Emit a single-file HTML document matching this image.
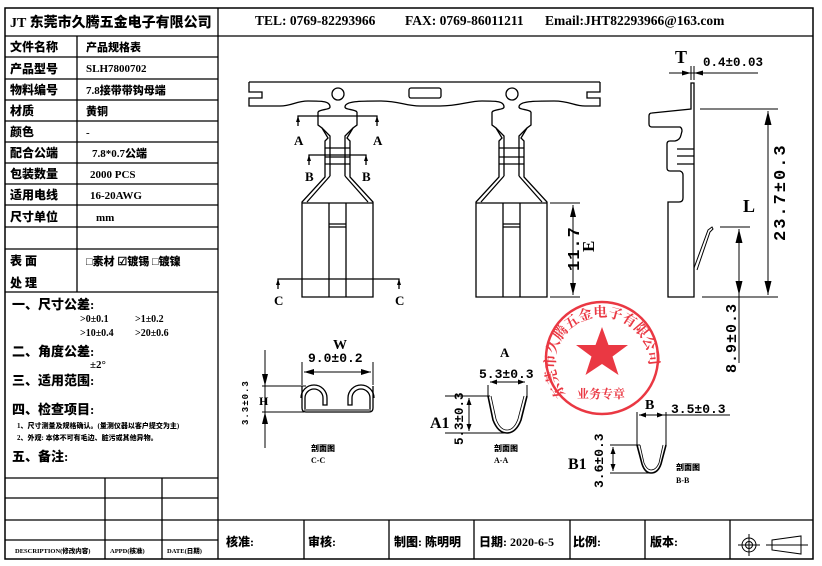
<!DOCTYPE html>
<html><head><meta charset="utf-8"><style>
html,body{margin:0;padding:0;background:#fff;}
svg{display:block;}
text{font-family:"Liberation Serif","Noto Serif CJK SC",serif;font-weight:bold;fill:#000;}
.c{font-family:"Liberation Serif","Noto Sans CJK SC",sans-serif;font-weight:900;}
.m{font-family:"Liberation Mono",monospace;font-weight:bold;}
</style></head><body>
<svg width="822" height="566" viewBox="0 0 822 566" xmlns="http://www.w3.org/2000/svg">
<g fill="none" stroke="#000" stroke-width="1.3">
<rect x="5" y="8" width="808" height="551" stroke-width="1.5"/>
<line x1="218" y1="8" x2="218" y2="559"/>
<line x1="218" y1="36" x2="813" y2="36"/>
<line x1="218" y1="520" x2="813" y2="520"/>
<line x1="5" y1="36" x2="218" y2="36"/>
<line x1="5" y1="57" x2="218" y2="57"/>
<line x1="5" y1="79" x2="218" y2="79"/>
<line x1="5" y1="100" x2="218" y2="100"/>
<line x1="5" y1="121" x2="218" y2="121"/>
<line x1="5" y1="142" x2="218" y2="142"/>
<line x1="5" y1="163" x2="218" y2="163"/>
<line x1="5" y1="184" x2="218" y2="184"/>
<line x1="5" y1="205" x2="218" y2="205"/>
<line x1="5" y1="227" x2="218" y2="227"/>
<line x1="5" y1="249" x2="218" y2="249"/>
<line x1="5" y1="292" x2="218" y2="292"/>
<line x1="77" y1="36" x2="77" y2="292"/>
<line x1="5" y1="478" x2="218" y2="478"/>
<line x1="5" y1="498" x2="218" y2="498"/>
<line x1="5" y1="520" x2="218" y2="520"/>
<line x1="5" y1="540" x2="218" y2="540"/>
<line x1="105" y1="478" x2="105" y2="559"/>
<line x1="162" y1="478" x2="162" y2="559"/>
<line x1="304" y1="520" x2="304" y2="559"/>
<line x1="389" y1="520" x2="389" y2="559"/>
<line x1="474" y1="520" x2="474" y2="559"/>
<line x1="570" y1="520" x2="570" y2="559"/>
<line x1="645" y1="520" x2="645" y2="559"/>
<line x1="730" y1="520" x2="730" y2="559"/>
<g stroke-width="1">
<circle cx="749" cy="545" r="7"/><circle cx="749" cy="545" r="3.5"/>
<line x1="738" y1="545" x2="760" y2="545"/><line x1="749" y1="534" x2="749" y2="556"/>
<path d="M772,540 L801,536 L801,554 L772,550 Z"/>
<line x1="766" y1="545" x2="808" y2="545"/>
</g>

<path d="M249,82 L600,82 M249,82 L249,92 L262,92 L262,98 L249,98 L249,106 L280,106 C292,106 296,101 308,101 C322,101 330,101 330,107 C330,110 320,109 318,112"/>
<path d="M357,112 C355,109 345,110 345,107 C345,101 360,101 380,101 C400,101 405,106 420,106 L440,106 C460,106 468,101 482,101 C496,101 504,101 504,107 C504,110 494,109 492,112"/>
<path d="M531,112 C529,109 519,110 519,107 C519,101 534,101 554,101 C570,101 574,106 585,106 L600,106 L600,98 L587,98 L587,92 L600,92 L600,82"/>
<circle cx="338" cy="94" r="6"/>
<circle cx="512" cy="94" r="6"/>
<rect x="409" y="88" width="32" height="10" rx="2"/>

<g id="t1">
<path d="M318,112 L318,125 L322,128 L328,138 L325,141 L325,177 L302,202 L302,297 L373,297 L373,202 L350,177 L350,141 L347,138 L353,128 L357,125 L357,112"/>
<path d="M322,128 L330,136 L330,176 M353,128 L345,136 L345,176 M330,176 L307,202 M345,176 L368,202"/>
<line x1="302" y1="203" x2="373" y2="203"/>
<line x1="329" y1="203" x2="329" y2="297"/>
<line x1="346" y1="203" x2="346" y2="297"/>
<line x1="329" y1="224" x2="346" y2="224"/><line x1="329" y1="227" x2="346" y2="227"/>
<line x1="325" y1="148" x2="350" y2="148"/>
<line x1="325" y1="157" x2="350" y2="157"/>
<line x1="325" y1="164" x2="350" y2="164"/>
</g>
<use href="#t1" transform="translate(174,0)"/>

<path d="M298,126 L298,116 L377,116 L377,126"/>
<path d="M309,165 L309,155 L366,155 L366,165"/>
<path d="M278,289 L278,279 L399,279 L399,289"/>

<line x1="550" y1="203" x2="580" y2="203" stroke-width="1"/>
<line x1="550" y1="297" x2="580" y2="297" stroke-width="1"/>
<line x1="573" y1="205" x2="573" y2="295" stroke-width="1"/>

<path d="M691,83 L691,109 L652,113 Q649,113 649,116 L649,124 Q649,127 652,127 L680,127 Q682,128 682,131 L681,135 Q680,140 675,141 L670,141 Q667,141 667,144 L667,168 Q667,171 670,171 L680,171 Q683,172 683,175 L683,198 Q683,202 679,202 L668,202 L668,297 L694,297 L694,83 Z"/>
<line x1="677" y1="149" x2="694" y2="149"/>
<line x1="677" y1="156" x2="694" y2="156"/>
<line x1="677" y1="164" x2="694" y2="164"/>
<path d="M694,268 L708,230 L712,227 L713,229 L710,232 L697,270" stroke-width="1"/>
<g stroke-width="1">
<line x1="669" y1="73" x2="758" y2="73"/>
<line x1="691" y1="66" x2="691" y2="80"/><line x1="694" y1="66" x2="694" y2="80"/>
<line x1="700" y1="109" x2="778" y2="109"/>
<line x1="702" y1="297" x2="778" y2="297"/>
<line x1="768" y1="111" x2="768" y2="295"/>
<line x1="720" y1="227" x2="750" y2="227"/>
<line x1="739" y1="229" x2="739" y2="363"/>
</g>

<g stroke-width="1">
<line x1="302" y1="362" x2="302" y2="385"/>
<line x1="373" y1="362" x2="373" y2="385"/>
<line x1="304" y1="372" x2="371" y2="372"/>
<line x1="262" y1="386" x2="306" y2="386"/>
<line x1="262" y1="412" x2="304" y2="412"/>
<line x1="265" y1="350" x2="265" y2="448"/>
</g>
<path d="M302,386 L302,408 Q302,412 306,412 L369,412 Q373,412 373,408 L373,386"/>
<path d="M304,410 L371,410" stroke-width="1"/>
<path d="M305,409 L305,398 A9,9 0 0 1 323,398 L323,405 L327,405 L327,398 A13,13 0 0 0 301,398"/>
<path d="M370,409 L370,398 A9,9 0 0 0 352,398 L352,405 L348,405 L348,398 A13,13 0 0 1 374,398"/>

<g stroke-width="1">
<line x1="488" y1="385" x2="488" y2="396"/>
<line x1="527" y1="385" x2="527" y2="396"/>
<line x1="490" y1="382" x2="525" y2="382"/>
<line x1="445" y1="396" x2="490" y2="396"/>
<line x1="445" y1="433" x2="505" y2="433"/>
<line x1="469" y1="398" x2="469" y2="431"/>
</g>
<path d="M488,396 L493,420 Q498,433 507,433 Q516,433 521,420 L527,396" stroke-width="1.6"/>
<path d="M491,396 L496,419 Q500,430 507,430 Q514,430 518,419 L524,396" stroke-width="0.8"/>

<g stroke-width="1">
<line x1="637" y1="412" x2="637" y2="445"/>
<line x1="666" y1="412" x2="666" y2="445"/>
<line x1="639" y1="415" x2="730" y2="415"/>
<line x1="610" y1="445" x2="640" y2="445"/>
<line x1="610" y1="473" x2="652" y2="473"/>
<line x1="613" y1="447" x2="613" y2="471"/>
</g>
<path d="M637,445 L642,464 Q645,473 651,473 Q658,473 661,464 L666,445" stroke-width="1.6"/>
<path d="M640,445 L644,463 Q647,470 651,470 Q656,470 659,463 L663,445" stroke-width="0.8"/>
</g>

<g fill="#000">
<path d="M298,116 l-2,6 l4,0z M377,116 l-2,6 l4,0z M309,155 l-2,6 l4,0z M366,155 l-2,6 l4,0z M278,279 l-2,6 l4,0z M399,279 l-2,6 l4,0z"/>
<path d="M573,205 l-3,12 l6,0z M573,295 l-3,-12 l6,0z"/>
<path d="M691,73 l-9,-2.5 l0,5z M694,73 l9,-2.5 l0,5z"/>
<path d="M768,111 l-3.5,14 l7,0z M768,295 l-3.5,-14 l7,0z"/>
<path d="M739,229 l-3.5,14 l7,0z M739,295 l-3.5,-14 l7,0z"/>
<path d="M304,372 l10,-3 l0,6z M371,372 l-10,-3 l0,6z"/>
<path d="M265,386 l-3,-12 l6,0z M265,412 l-3,12 l6,0z"/>
<path d="M490,382 l7,-2.5 l0,5z M525,382 l-7,-2.5 l0,5z"/>
<path d="M469,398 l-2.5,7 l5,0z M469,431 l-2.5,-7 l5,0z"/>
<path d="M639,415 l7,-2.5 l0,5z M664,415 l-7,-2.5 l0,5z"/>
<path d="M613,447 l-2.5,7 l5,0z M613,471 l-2.5,-7 l5,0z"/>
</g>

<text x="10" y="27" font-size="14" class="c">JT 东莞市久腾五金电子有限公司</text>
<text x="255" y="25" font-size="13.5">TEL: 0769-82293966</text>
<text x="405" y="25" font-size="13.5">FAX: 0769-86011211</text>
<text x="545" y="25" font-size="13.5">Email:JHT82293966@163.com</text>

<g font-size="12" class="c">
<text x="10" y="51" class="c">文件名称</text><text x="86" y="51" class="c" font-size="11">产品规格表</text>
<text x="10" y="73" class="c">产品型号</text><text x="86" y="72" font-size="11">SLH7800702</text>
<text x="10" y="94" class="c">物料编号</text><text x="86" y="94" class="c" font-size="11">7.8接带带钩母端</text>
<text x="10" y="115" class="c">材质</text><text x="86" y="115" class="c" font-size="11">黄铜</text>
<text x="10" y="136" class="c">颜色</text><text x="86" y="136" font-size="11">-</text>
<text x="10" y="157" class="c">配合公端</text><text x="92" y="157" class="c" font-size="11">7.8*0.7公端</text>
<text x="10" y="178" class="c">包装数量</text><text x="90" y="178" font-size="11">2000 PCS</text>
<text x="10" y="199" class="c">适用电线</text><text x="90" y="199" font-size="11">16-20AWG</text>
<text x="10" y="221" class="c">尺寸单位</text><text x="96" y="221" font-size="11">mm</text>
<text x="10" y="265" class="c">表 面</text><text x="10" y="287" class="c">处 理</text>
<text x="86" y="265" class="c" font-size="11">□素材  ☑镀锡  □镀镍</text>
<text x="12" y="309" class="c" font-size="13">一、尺寸公差:</text>
<text x="80" y="322" font-size="10">&gt;0±0.1</text><text x="135" y="322" font-size="10">&gt;1±0.2</text>
<text x="80" y="336" font-size="10">&gt;10±0.4</text><text x="135" y="336" font-size="10">&gt;20±0.6</text>
<text x="12" y="356" class="c" font-size="13">二、角度公差:</text>
<text x="90" y="368" font-size="11">±2°</text>
<text x="12" y="385" class="c" font-size="13">三、适用范围:</text>
<text x="12" y="414" class="c" font-size="13">四、检查项目:</text>
<text x="17" y="428" class="c" font-size="7">1、尺寸测量及规格确认。(量测仪器以客户提交为主)</text>
<text x="17" y="440" class="c" font-size="7">2、外观: 本体不可有毛边、脏污或其他异物。</text>
<text x="12" y="461" class="c" font-size="13">五、备注:</text>
<text x="15" y="553" class="c" font-size="6.5">DESCRIPTION(修改内容)</text>
<text x="110" y="553" class="c" font-size="6.5">APPD(核准)</text>
<text x="167" y="553" class="c" font-size="6.5">DATE(日期)</text>
</g>
<g font-size="12" class="c">
<text x="226" y="546" class="c">核准:</text>
<text x="308" y="546" class="c">审核:</text>
<text x="394" y="546" class="c">制图: 陈明明</text>
<text x="479" y="546" class="c">日期: 2020-6-5</text>
<text x="573" y="546" class="c">比例:</text>
<text x="650" y="546" class="c">版本:</text>
</g>

<g font-size="13">
<text x="294" y="145">A</text><text x="373" y="145">A</text>
<text x="305" y="181">B</text><text x="362" y="181">B</text>
<text x="274" y="305">C</text><text x="395" y="305">C</text>
<text transform="translate(579,271) rotate(-90)" class="m" font-size="17" letter-spacing="1">11.7</text>
<text transform="translate(594,252) rotate(-90)" font-size="17">E</text>
<text x="675" y="63" font-size="18">T</text>
<text x="703" y="66" class="m" font-size="12.5">0.4±0.03</text>
<text x="743" y="212" font-size="18">L</text>
<text transform="translate(785,241) rotate(-90)" class="m" font-size="17" letter-spacing="2">23.7±0.3</text>
<text transform="translate(736,373) rotate(-90)" class="m" font-size="15" letter-spacing="1">8.9±0.3</text>
<text x="333" y="349" font-size="14">W</text>
<text x="308" y="362" class="m" font-size="13">9.0±0.2</text>
<text x="259" y="405" font-size="12">H</text>
<text transform="translate(248,425) rotate(-90)" class="m" font-size="9" letter-spacing="1">3.3±0.3</text>
<text x="500" y="357" font-size="13">A</text>
<text x="479" y="378" class="m" font-size="13">5.3±0.3</text>
<text x="430" y="428" font-size="16">A1</text>
<text transform="translate(463,445) rotate(-90)" class="m" font-size="12.5">5.3±0.3</text>
<text x="645" y="409" font-size="14">B</text>
<text x="671" y="413" class="m" font-size="13">3.5±0.3</text>
<text x="568" y="469" font-size="16">B1</text>
<text transform="translate(603,488) rotate(-90)" class="m" font-size="13">3.6±0.3</text>
</g>
<g font-size="8" class="c">
<text x="311" y="451" class="c">剖面图</text><text x="311" y="463">C-C</text>
<text x="494" y="451" class="c">剖面图</text><text x="494" y="463">A-A</text>
<text x="676" y="470" class="c">剖面图</text><text x="676" y="483">B-B</text>
</g>

<g opacity="0.9">
<circle cx="602" cy="358" r="56" fill="none" stroke="#e8232f" stroke-width="2.5"/>
<path d="M602,327 L608.5,345 L628,345 L612.5,356.5 L618.5,375 L602,364 L585.5,375 L591.5,356.5 L576,345 L595.5,345 Z" fill="#e8232f"/>
<defs><path id="arc" d="M566,394 A47,47 0 1 1 638,394"/></defs>
<text font-size="14" style="fill:#e8232f;font-family:'Noto Serif CJK SC',serif;font-weight:bold"><textPath href="#arc">东莞市久腾五金电子有限公司</textPath></text>
<text x="577" y="398" font-size="12" style="fill:#e8232f;font-family:'Noto Serif CJK SC',serif;font-weight:bold">业务专章</text>
</g>
</svg>
</body></html>
